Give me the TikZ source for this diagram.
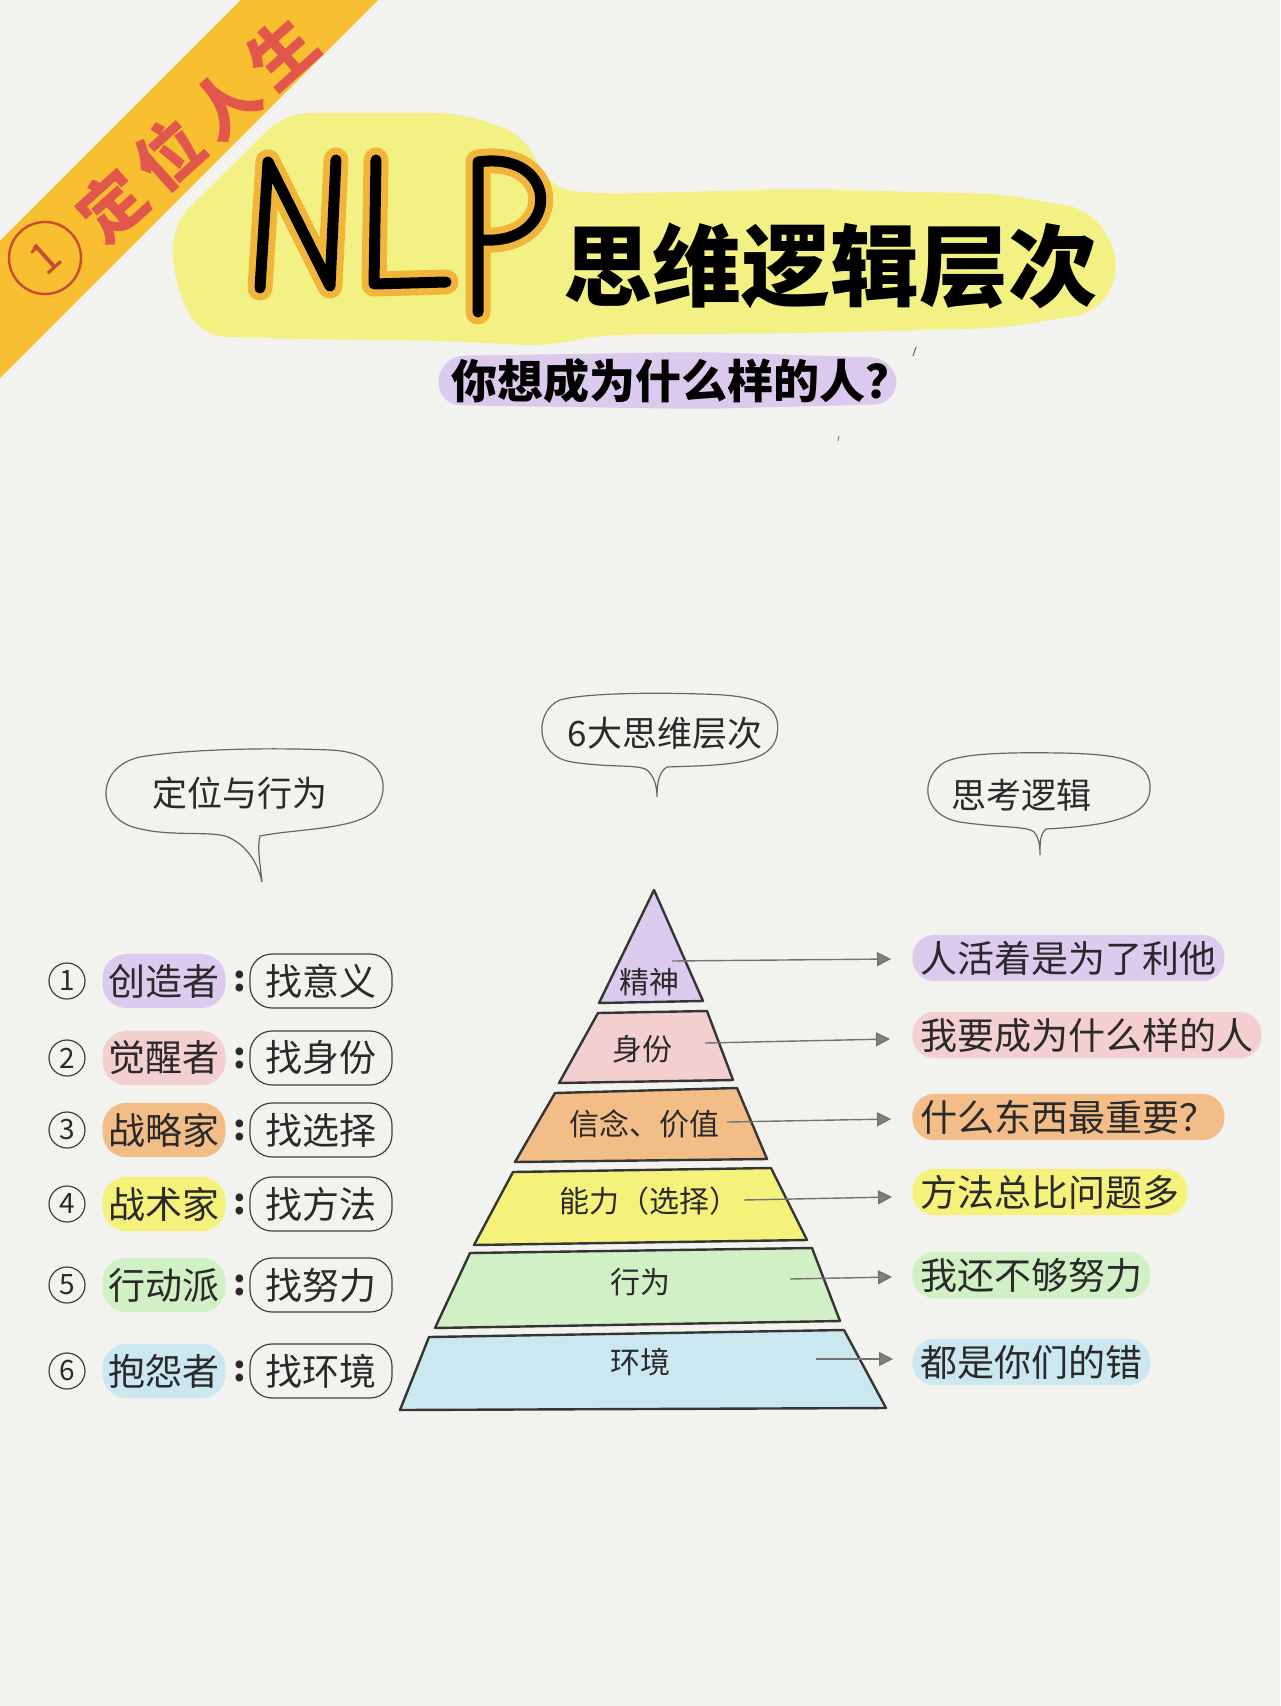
\documentclass[tikz,border=0pt]{standalone}
\usepackage{fontspec}
\newfontfamily\cjk{Noto Sans CJK SC}
\usetikzlibrary{arrows.meta}
\newcommand\fsz[1]{\fontsize{#1}{#1}\selectfont}
\definecolor{paper}{HTML}{F2F2EE}
\definecolor{ink}{HTML}{2A2A2A}
\definecolor{stripe}{HTML}{F8BF30}
\definecolor{bred}{HTML}{E2574C}
\definecolor{bredd}{HTML}{C84C34}
\definecolor{ylw}{HTML}{F3F184}
\definecolor{nlpor}{HTML}{F0B53A}
\definecolor{subp}{HTML}{DCCAEE}
\definecolor{cp}{HTML}{DCCBEE}
\definecolor{ck}{HTML}{F4CFCF}
\definecolor{co}{HTML}{F3BD88}
\definecolor{cy}{HTML}{F5F27C}
\definecolor{cg}{HTML}{D2F0C5}
\definecolor{cb}{HTML}{CBE8F0}
\tikzset{
  txt/.style={font=\cjk\fsz{18.5}, text=ink, inner sep=0pt},
  lblob/.style={txt, rounded corners=12pt, inner xsep=3pt, inner ysep=5pt},
  rblob/.style={txt, rounded corners=11pt, inner xsep=4pt, inner ysep=3pt, anchor=west},
  findbox/.style={txt, draw=ink!90, line width=0.6pt, rounded corners=11pt, minimum width=71pt, minimum height=27pt},
  numc/.style={circle, draw=ink!90, line width=0.6pt, minimum size=18pt, inner sep=0pt, font=\cjk\fsz{14}, text=ink},
  layer/.style={draw=ink!95, line width=1.2pt, line join=round},
  plbl/.style={font=\cjk\fsz{15}, text=ink, inner sep=0pt},
  arr/.style={draw=black!55, line width=0.7pt, -{Triangle[length=7pt,width=7pt,fill=black!50]}},
  bubble/.style={draw=black!60, line width=0.6pt},
  btxt/.style={font=\cjk\fsz{17.5}, text=ink, inner sep=0pt},
  nlpo/.style={draw=nlpor, line width=12.5pt, line cap=round, line join=round},
  nlpb/.style={draw=black, line width=5.5pt, line cap=round, line join=round}
}
\begin{document}
\begin{tikzpicture}[x=0.5pt,y=-0.5pt]
\useasboundingbox (0,0) rectangle (1280,1706);
\fill[paper] (0,0) rectangle (1280,1706);

% yellow title blob
\fill[ylw, rounded corners=12pt] (285,113) -- (460,113) -- (525,135) -- (548,188) -- (600,194) -- (800,189) -- (1000,194) -- (1092,210) -- (1122,262) -- (1100,312) -- (1000,328) -- (800,333) -- (600,335) -- (545,346) -- (450,341) -- (300,339) -- (200,336) -- (174,282) -- (172,225) -- cycle;

% banner stripe
\fill[stripe] (241,0) -- (378,0) -- (0,378) -- (0,241) -- cycle;
\node[circle, draw=bredd, line width=1.2pt, minimum size=36pt, inner sep=0pt] (bc) at (45,258) {};
\node[font=\cjk\fsz{22}, text=bredd, rotate=42] (b1) at (bc) {1};
\node[font=\cjk\bfseries\fsz{33}, text=bred, rotate=42, inner sep=0pt] (banner) at (197,129) {定\hspace{5pt}位\hspace{5pt}人\hspace{5pt}生};

% NLP letters
\draw[nlpo] (260,288) -- (268,162) -- (330,286) -- (336,160);
\draw[nlpo] (376,160) -- (374,284) -- (446,282);
\draw[nlpo] (478,312) -- (478,162) .. controls (560,150) and (562,245) .. (482,240);
\draw[nlpb] (260,288) -- (268,162) -- (330,286) -- (336,160);
\draw[nlpb] (376,160) -- (374,284) -- (446,282);
\draw[nlpb] (478,312) -- (478,162) .. controls (560,150) and (562,245) .. (482,240);

\node[font=\cjk\bfseries\fsz{44.5}, text=black, inner sep=0pt] (title) at (830,266) {思维逻辑层次};

% subtitle
\fill[subp, rounded corners=12pt] (440,356) -- (700,352) -- (895,358) -- (898,404) -- (700,409) -- (437,405) -- cycle;
\node[font=\cjk\bfseries\fsz{23}, text=black, inner sep=0pt] (sub) at (681,381) {你想成为什么样的人？};
\draw[black!60, line width=0.5pt] (916,347) -- (913,356);
\draw[black!50, line width=0.5pt] (839,436) -- (838,441);

% speech bubbles
\draw[bubble] (262,882) .. controls (260,862) and (257,848) .. (260,836)
  .. controls (300,828) and (365,830) .. (378,806)
  .. controls (392,780) and (378,752) .. (330,750)
  .. controls (260,747) and (180,750) .. (140,757)
  .. controls (98,766) and (95,812) .. (130,826)
  .. controls (165,838) and (210,830) .. (228,837)
  .. controls (248,846) and (258,864) .. (262,882);
\node[btxt] (bub1) at (240,793) {定位与行为};

\draw[bubble] (657,797) .. controls (657,782) and (659,772) .. (667,767)
  .. controls (720,765) and (772,766) .. (777,735)
  .. controls (782,705) and (760,695) .. (700,694)
  .. controls (640,692) and (580,694) .. (560,700)
  .. controls (535,710) and (533,756) .. (572,762)
  .. controls (610,768) and (638,764) .. (647,770)
  .. controls (654,776) and (657,786) .. (657,797);
\node[btxt] (bub2) at (665,733) {6大思维层次};

\draw[bubble] (1040,855) .. controls (1040,842) and (1040,834) .. (1046,829)
  .. controls (1100,826) and (1148,820) .. (1150,790)
  .. controls (1152,760) and (1120,754) .. (1060,753)
  .. controls (1000,752) and (962,754) .. (945,762)
  .. controls (920,776) and (920,815) .. (960,822)
  .. controls (1000,828) and (1028,826) .. (1034,832)
  .. controls (1039,838) and (1040,845) .. (1040,855);
\node[btxt] (bub3) at (1021,795) {思考逻辑};

% pyramid
\filldraw[layer, fill=cp] (654,890) -- (703,1001) -- (599,1003) -- cycle;
\filldraw[layer, fill=ck] (598,1013) -- (707,1011) -- (733,1080) -- (559,1083) -- cycle;
\filldraw[layer, fill=co] (555,1093) -- (737,1088) -- (767,1159) -- (515,1162) -- cycle;
\filldraw[layer, fill=cy] (513,1172) -- (771,1168) -- (807,1240) -- (474,1245) -- cycle;
\filldraw[layer, fill=cg] (470,1253) -- (812,1248) -- (840,1321) -- (435,1328) -- cycle;
\filldraw[layer, fill=cb] (429,1337) -- (844,1330) -- (886,1408) -- (400,1410) -- cycle;

\node[plbl] (p1) at (649,982) {精神};
\node[plbl] (p2) at (642,1049) {身份};
\node[plbl] (p3) at (644,1124) {信念、价值};
\node[plbl] (p4) at (649,1201) {能力（选择）};
\node[plbl] (p5) at (640,1282) {行为};
\node[plbl] (p6) at (640,1362) {环境};

% arrows
\foreach \n/\sx/\sy/\ex/\ey in {1/672/961/891/959, 2/705/1043/890/1039, 3/727/1122/891/1119, 4/744/1200/892/1197, 5/790/1279/892/1277, 6/816/1359/893/1359}{
  \coordinate (as\n) at (\sx,\sy);
  \coordinate (ae\n) at (\ex,\ey);
  \draw[arr] (as\n) -- (ae\n);
}

% right list
\foreach \n/\y/\t/\c in {1/958/人活着是为了利他/cp, 2/1035/我要成为什么样的人/ck, 3/1117/什么东西最重要？/co, 4/1192/方法总比问题多/cy, 5/1275/我还不够努力/cg, 6/1362/都是你们的错/cb}{
  \node[rblob, fill=\c] (r\n) at (912,\y) {\t};
}

% left list
\foreach \n/\y/\r/\f/\c in {1/981/创造者/找意义/cp, 2/1058/觉醒者/找身份/ck, 3/1130/战略家/找选择/co, 4/1204/战术家/找方法/cy, 5/1285/行动派/找努力/cg, 6/1371/抱怨者/找环境/cb}{
  \node[numc] (n\n) at (67,\y) {\n};
  \node[lblob, fill=\c] (role\n) at (164,\y) {\r};
  \node[txt, font=\cjk\bfseries\fsz{18}] (colon\n) at (240,\y) {:};
  \node[findbox] (find\n) at (321,\y) {\f};
}
\end{tikzpicture}
\end{document}
